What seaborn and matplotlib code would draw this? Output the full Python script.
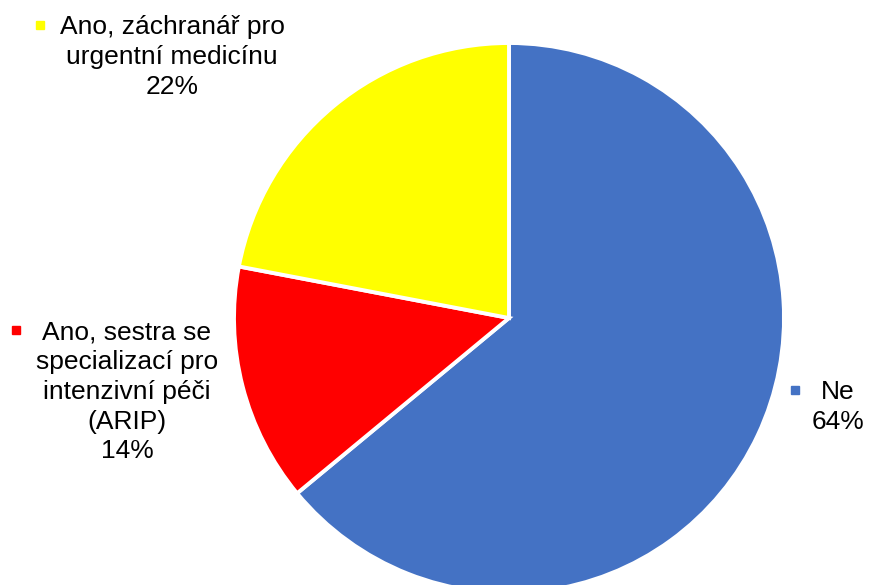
import matplotlib
matplotlib.use("Agg")
import matplotlib.pyplot as plt
import seaborn as sns

# Survey answers, ordered clockwise from 12 o'clock
categories = ["Ne", "Ano, sestra se\nspecializací pro\nintenzivní péči\n(ARIP)", "Ano, záchranář pro\nurgentní medicínu"]
shares = [64, 14, 22]
slice_colors = ["#4472C4", "#FF0000", "#FFFF00"]

sns.set_theme(style="white")
plt.rcParams["font.family"] = ["Liberation Sans", "DejaVu Sans"]

W, H, DPI = 869, 585, 100
fig = plt.figure(figsize=(W / DPI, H / DPI), dpi=DPI)
ax = fig.add_axes([0, 0, 1, 1])

cx, cy, r = 509, 318, 275  # pie centre / radius in pixels (y from top)
ax.pie(shares, colors=sns.color_palette(slice_colors), startangle=90, counterclock=False,
       radius=1.0, wedgeprops=dict(edgecolor="white", linewidth=2.8))
ax.set_xlim(-cx / r, (W - cx) / r)
ax.set_ylim(-(H - cy) / r, cy / r)
ax.set_aspect("auto")
ax.axis("off")

# label block centres and legend-key positions (pixels, y from top)
label_pos = [(838, 407), (127, 392), (172, 57)]
key_pos = [(795, 390), (16, 330), (40, 25)]

for name, val, col, (lx, ly), (kx, ky) in zip(categories, shares, slice_colors, label_pos, key_pos):
    fig.text(lx / W, 1 - ly / H, f"{name}\n{val}%", ha="center", va="center",
             fontsize=19, color="black", linespacing=1.3, multialignment="center")
    fig.patches.append(plt.Rectangle(((kx - 4) / W, 1 - (ky + 4) / H), 8 / W, 8 / H,
                                     transform=fig.transFigure, color=col, figure=fig))

fig.savefig("out.png", dpi=DPI)
